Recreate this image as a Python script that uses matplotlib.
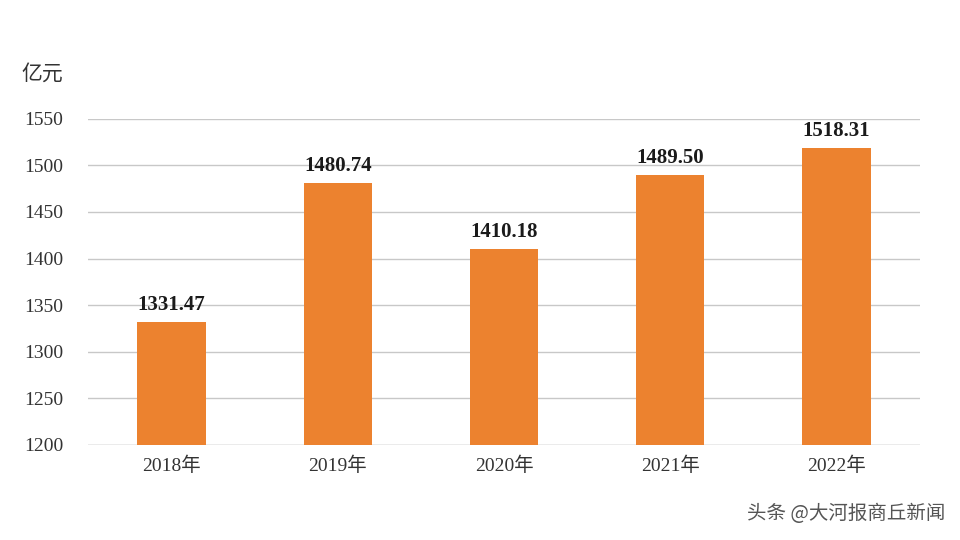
import matplotlib
matplotlib.use("Agg")
import matplotlib.pyplot as plt

years = ["2018年", "2019年", "2020年", "2021年", "2022年"]
values = [1331.47, 1480.74, 1410.18, 1489.50, 1518.31]
yticks = [1200, 1250, 1300, 1350, 1400, 1450, 1500, 1550]

serif = ["Liberation Serif", "Noto Sans CJK SC"]
fig = plt.figure(figsize=(9.6, 5.4), dpi=100)
ax = fig.add_axes([0.092, 0.176, 0.866, 0.604])
x = range(len(years))
ax.bar(x, [v - 1200 for v in values], bottom=1200, width=0.41, color="#EC822F", zorder=3)
for xi, v in zip(x, values):
    ax.text(xi, v + 8, f"{v:.2f}", ha="center", va="bottom", fontsize=15,
            fontweight="bold", family=serif, color="#1a1a1a")
ax.set_xlim(-0.5, 4.5)
ax.set_ylim(1200, 1550)
ax.set_yticks(yticks)
ax.set_yticklabels([str(t) for t in yticks], family=serif, fontsize=14, color="#333333")
ax.set_xticks(list(x))
ax.set_xticklabels(years, family=serif, fontsize=14, color="#333333")
ax.yaxis.grid(True, color="#c8c8c8", lw=1, zorder=0)
ax.tick_params(length=0, pad=8)
ax.tick_params(axis="y", pad=18)
for s in ax.spines.values():
    s.set_visible(False)
ax.axhline(1200, color="#c8c8c8", lw=1, zorder=1)
fig.text(0.022, 0.852, "亿元", family=["Noto Sans CJK SC"], fontsize=15, color="#333333")
fig.text(0.985, 0.03, "头条 @大河报商丘新闻", family=["Noto Sans CJK SC"], fontsize=14,
         color="#555555", ha="right", va="bottom")
fig.savefig("out.png", dpi=100, facecolor="white")
